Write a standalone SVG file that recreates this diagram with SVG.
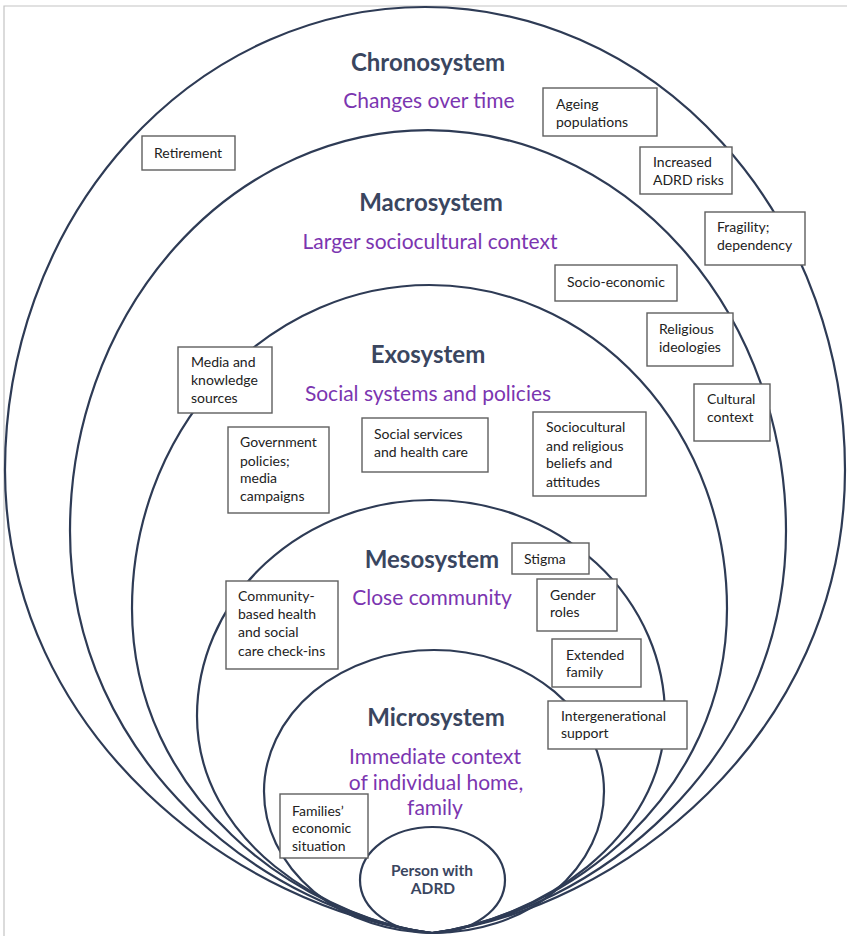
<svg xmlns="http://www.w3.org/2000/svg" width="847" height="936" viewBox="0 0 847 936">
<style>
.frame{stroke:#c4c4c4;stroke-width:1.2;fill:none}
.ring{fill:none;stroke:#2e3b55;stroke-width:2.2;stroke-linejoin:round}
.box{fill:#ffffff;stroke:#5f5f5f;stroke-width:1.4}
.title{font-family:Lato,"Open Sans",sans-serif;font-weight:700;font-size:24px;fill:#3a465f;text-anchor:middle}
.sub{font-family:Lato,"Open Sans",sans-serif;font-size:21px;fill:#7b35b0;text-anchor:middle}
.t{font-family:Lato,"Open Sans",sans-serif;font-size:14px;fill:#222222}
.core{font-family:Lato,"Open Sans",sans-serif;font-weight:700;font-size:15.5px;fill:#3a465f;text-anchor:middle}
</style>
<rect width="847" height="936" fill="#ffffff"/>
<path class="frame" d="M4,936 V6 H847"/>
<g id="chronosystem">
<path class="ring" d="M432,933 C241.4,909.6 5,738 5,470 A420,463 0 0 1 845,470 C845,738 616.6,910.3 432,933 Z"/>
<text class="title" x="428" y="71">Chronosystem</text>
<text class="sub" x="429" y="108">Changes over time</text>
</g>
<g id="macrosystem">
<path class="ring" d="M432,933 C270.2,913.1 70,764 70,531 A358,401 0 0 1 786,531 C786,764 589.8,913.6 432,933 Z"/>
<text class="title" x="431" y="211">Macrosystem</text>
<text class="sub" x="430" y="249">Larger sociocultural context</text>
</g>
<g id="exosystem">
<path class="ring" d="M432,933 C298,916.5 132,796.5 132,608.5 A297.5,323.5 0 0 1 727,608.5 C727,796.5 564,916.8 432,933 Z"/>
<text class="title" x="428" y="363">Exosystem</text>
<text class="sub" x="428" y="401">Social systems and policies</text>
</g>
<g id="mesosystem">
<path class="ring" d="M432,933 C326.8,920 197,841 197,716 A234,216 0 0 1 665,716 C665,841 536.2,920.2 432,933 Z"/>
<text class="title" x="432" y="568">Mesosystem</text>
<text class="sub" x="432" y="605">Close community</text>
</g>
<g id="microsystem">
<ellipse class="ring" cx="434" cy="791.5" rx="170" ry="141.5"/>
<text class="title" x="436" y="726">Microsystem</text>
<text class="sub" x="435" y="764">Immediate context</text>
<text class="sub" x="436" y="790">of individual home,</text>
<text class="sub" x="435" y="815">family</text>
</g>
<g id="person-with-adrd">
<ellipse class="ring" cx="432.5" cy="880" rx="72.5" ry="53"/>
<text class="core" x="432" y="876">Person with</text>
<text class="core" x="433" y="894">ADRD</text>
</g>
<g id="ageing-populations">
<rect class="box" x="543" y="88" width="114" height="48"/>
<text class="t" x="556" y="109">Ageing</text>
<text class="t" x="556" y="127">populations</text>
</g>
<g id="retirement">
<rect class="box" x="142" y="136" width="93" height="34"/>
<text class="t" x="154" y="158">Retirement</text>
</g>
<g id="increased-adrd-risks">
<rect class="box" x="640" y="147" width="92" height="47"/>
<text class="t" x="653" y="167">Increased</text>
<text class="t" x="653" y="185">ADRD risks</text>
</g>
<g id="fragility-dependency">
<rect class="box" x="705" y="212" width="100" height="53"/>
<text class="t" x="717" y="232">Fragility;</text>
<text class="t" x="717" y="250">dependency</text>
</g>
<g id="socio-economic">
<rect class="box" x="555" y="265" width="122" height="36"/>
<text class="t" x="567" y="287">Socio-economic</text>
</g>
<g id="religious-ideologies">
<rect class="box" x="647" y="313" width="86" height="53"/>
<text class="t" x="659" y="334">Religious</text>
<text class="t" x="659" y="352">ideologies</text>
</g>
<g id="cultural-context">
<rect class="box" x="694" y="384" width="76" height="57"/>
<text class="t" x="707" y="404">Cultural</text>
<text class="t" x="707" y="422">context</text>
</g>
<g id="media-knowledge-sources">
<rect class="box" x="178" y="347" width="94" height="66"/>
<text class="t" x="191" y="367">Media and</text>
<text class="t" x="191" y="385">knowledge</text>
<text class="t" x="191" y="403">sources</text>
</g>
<g id="government-policies">
<rect class="box" x="228" y="427" width="101" height="86"/>
<text class="t" x="240" y="447">Government</text>
<text class="t" x="240" y="466">policies;</text>
<text class="t" x="240" y="483">media</text>
<text class="t" x="240" y="501">campaigns</text>
</g>
<g id="social-services">
<rect class="box" x="362" y="418" width="126" height="54"/>
<text class="t" x="374" y="439">Social services</text>
<text class="t" x="374" y="457">and health care</text>
</g>
<g id="sociocultural-beliefs">
<rect class="box" x="533" y="412" width="113" height="84"/>
<text class="t" x="546" y="432">Sociocultural</text>
<text class="t" x="546" y="451">and religious</text>
<text class="t" x="546" y="468">beliefs and</text>
<text class="t" x="546" y="487">attitudes</text>
</g>
<g id="stigma">
<rect class="box" x="512" y="543" width="77" height="31"/>
<text class="t" x="524" y="564">Stigma</text>
</g>
<g id="gender-roles">
<rect class="box" x="537" y="579" width="80" height="52"/>
<text class="t" x="550" y="600">Gender</text>
<text class="t" x="550" y="617">roles</text>
</g>
<g id="extended-family">
<rect class="box" x="552" y="639" width="89" height="48"/>
<text class="t" x="566" y="660">Extended</text>
<text class="t" x="566" y="677">family</text>
</g>
<g id="intergenerational-support">
<rect class="box" x="548" y="701" width="139" height="48"/>
<text class="t" x="561" y="721">Intergenerational</text>
<text class="t" x="561" y="738">support</text>
</g>
<g id="community-check-ins">
<rect class="box" x="226" y="581" width="112" height="88"/>
<text class="t" x="238" y="601">Community-</text>
<text class="t" x="238" y="619">based health</text>
<text class="t" x="238" y="637">and social</text>
<text class="t" x="238" y="656">care check-ins</text>
</g>
<g id="families-economic-situation">
<rect class="box" x="280" y="794" width="88" height="64"/>
<text class="t" x="292" y="816">Families’</text>
<text class="t" x="292" y="833">economic</text>
<text class="t" x="292" y="851">situation</text>
</g>
<g id="connectors"></g>
</svg>
